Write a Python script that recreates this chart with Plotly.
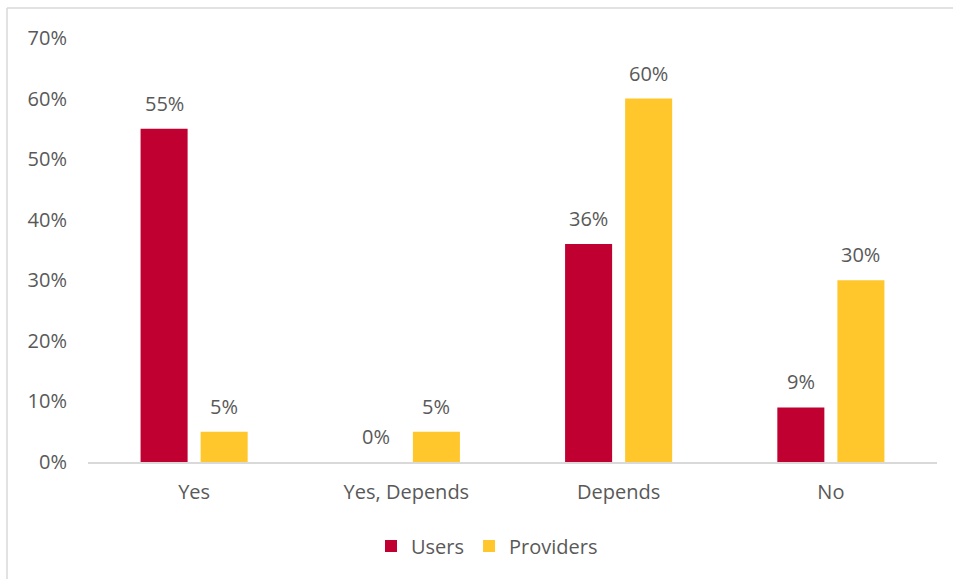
import plotly.graph_objects as go

categories = ["Yes", "Yes, Depends", "Depends", "No"]
users = [55, 0, 36, 9]
providers = [5, 5, 60, 30]
y_ticks = [0, 10, 20, 30, 40, 50, 60, 70]

RED = "#C00030"
YELLOW = "#FFC72C"
TEXT = "#595959"
FONT = "Open Sans"
FS = 20

fig = go.Figure()
fig.add_trace(go.Bar(name="Users", x=categories, y=users, marker_color=RED,
                     marker_line_width=0))
fig.add_trace(go.Bar(name="Providers", x=categories, y=providers, marker_color=YELLOW,
                     marker_line_width=0))

# value labels above each bar
annotations = []
for series, shift in ((users, -30), (providers, 30)):
    for cat, v in zip(categories, series):
        annotations.append(dict(x=cat, y=v, xref="x", yref="y", text=f"{v}%",
                                showarrow=False, xshift=shift, yshift=10,
                                yanchor="bottom",
                                font=dict(family=FONT, size=FS, color=TEXT)))

W, H = 953, 579
ml, mr, mt, mb = 88, 16, 38, 117
pw, ph = W - ml - mr, H - mt - mb

def px(x):
    return (x - ml) / pw

def py(y):
    return (H - mb - y) / ph

fig.update_layout(
    width=W, height=H,
    margin=dict(l=ml, r=mr, t=mt, b=mb),
    paper_bgcolor="white", plot_bgcolor="white",
    barmode="group", bargap=0.434, bargroupgap=0.217,
    font=dict(family=FONT, size=FS, color=TEXT),
    annotations=annotations,
    legend=dict(orientation="h", x=px(487), xanchor="center", y=py(546),
                yanchor="middle", font=dict(family=FONT, size=FS, color=TEXT),
                itemwidth=30, traceorder="normal"),
    xaxis=dict(showgrid=False, showline=True, linecolor="#D9D9D9", linewidth=1.5,
               ticks="", ticklabelstandoff=11, tickfont=dict(size=FS, color=TEXT)),
    yaxis=dict(range=[0, 70], tickvals=y_ticks, ticktext=[f"{t}%" for t in y_ticks],
               showgrid=False, zeroline=False, showline=False, ticks="",
               ticklabelstandoff=20, tickfont=dict(size=FS, color=TEXT)),
    shapes=[
        dict(type="line", xref="paper", yref="paper", x0=px(7), x1=px(W + 5),
             y0=py(8), y1=py(8), line=dict(color="#D9D9D9", width=1.5)),
        dict(type="line", xref="paper", yref="paper", x0=px(7), x1=px(7),
             y0=py(8), y1=py(H + 5), line=dict(color="#D9D9D9", width=1.5)),
    ],
)

fig.write_html("out.html")
